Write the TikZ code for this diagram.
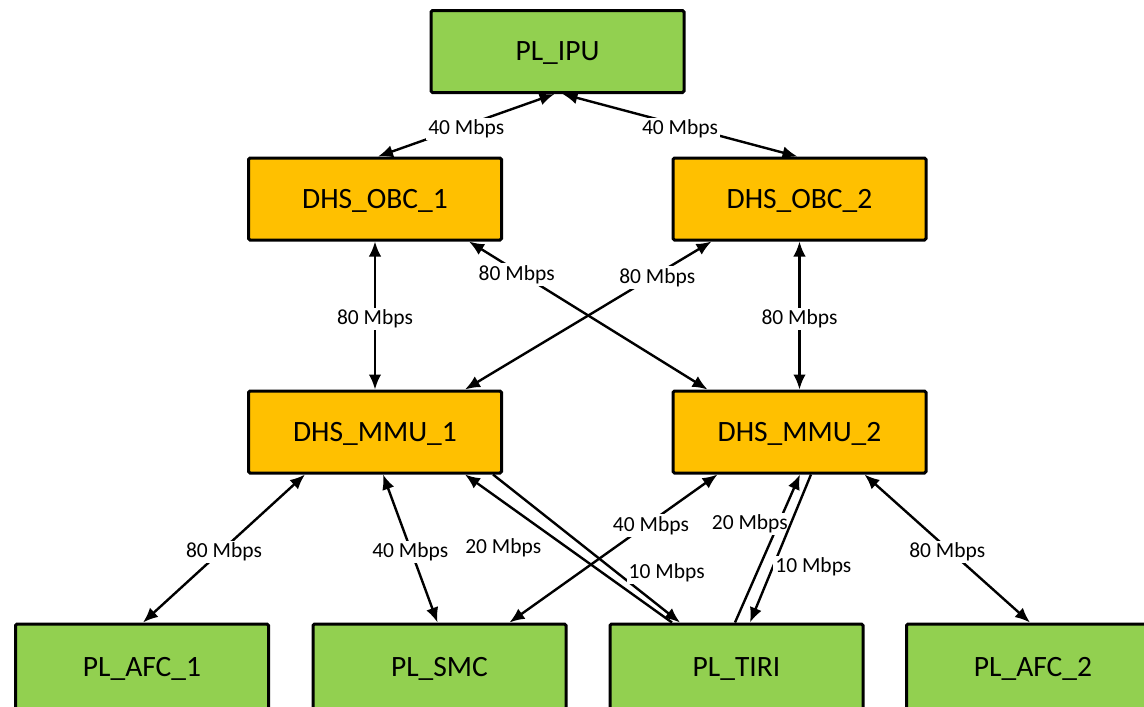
\documentclass[tikz,border=0pt]{standalone}
\usepackage{fontspec}
\setmainfont{Carlito}
\usepackage{tikz}
\usetikzlibrary{arrows.meta, calc}
\definecolor{plgreen}{HTML}{92D050}
\definecolor{dhsorange}{HTML}{FFC000}
\tikzset{>={Latex[length=15pt,width=12.5pt]}}

\begin{document}
\begin{tikzpicture}[x=1pt, y=-1pt,
  box/.style={draw=black, line width=3pt, rounded corners=1.5pt, minimum width=253pt, minimum height=82pt, inner sep=0pt, text height=18.8pt, text depth=0pt, font=\fontsize{29.5}{32}\selectfont},
  pl/.style={box, fill=plgreen},
  dhs/.style={box, fill=dhsorange},
  link/.style={line width=2.4pt},
  lbl/.style={fill=white, inner sep=2pt, yshift=-3.5pt, font=\fontsize{21.5}{24}\selectfont}]
\clip (0,0) rectangle (1144,707);
% boxes
\node[pl] (ipu) at (557.5,51.5) {PL\_IPU};
\node[dhs] (obc1) at (375,199) {DHS\_OBC\_1};
\node[dhs] (obc2) at (799.5,199) {DHS\_OBC\_2};
\node[dhs] (mmu1) at (375,432) {DHS\_MMU\_1};
\node[dhs] (mmu2) at (799.5,432) {DHS\_MMU\_2};
\node[pl, minimum height=86pt] (afc1) at (142,667) {PL\_AFC\_1};
\node[pl, minimum height=86pt] (smc) at (439.5,667) {PL\_SMC};
\node[pl, minimum height=86pt] (tiri) at (736.5,667) {PL\_TIRI};
\node[pl, minimum height=86pt] (afc2) at (1033,667) {PL\_AFC\_2};
% links
\draw[link, <->] ([xshift=-3pt]ipu.south) -- node[lbl] {40 Mbps} ([xshift=3pt]obc1.north);
\draw[link, <->] ([xshift=5pt]ipu.south) -- node[lbl] {40 Mbps} ([xshift=-2pt]obc2.north);
\draw[link, <->] (obc1.south) -- node[lbl] {80 Mbps} (mmu1.north);
\draw[link, <->] (obc2.south) -- node[lbl] {80 Mbps} (mmu2.north);
\draw[link, <->] ([xshift=94pt]obc1.south) -- node[lbl, pos=0.2] {80 Mbps} ([xshift=-92pt]mmu2.north);
\draw[link, <->] ([xshift=-88pt]obc2.south) -- node[lbl, pos=0.22] {80 Mbps} ([xshift=90pt]mmu1.north);
\draw[link, <->] ([xshift=-70pt]mmu1.south) -- node[lbl] {80 Mbps} ([xshift=1pt]afc1.north);
\draw[link, <->] ([xshift=8pt]mmu1.south) -- node[lbl] {40 Mbps} ([xshift=-2pt]smc.north);
\draw[link, <->] ([xshift=-82pt]mmu2.south) -- node[lbl, pos=0.32] {40 Mbps} ([xshift=70pt]smc.north);
\draw[link, <->] ([xshift=65pt]mmu2.south) -- node[lbl] {80 Mbps} ([xshift=-3pt]afc2.north);
\draw[link, ->] ([xshift=-64.5pt]tiri.north) -- node[lbl, pos=0.53, xshift=-59pt] {20 Mbps} ([xshift=90pt]mmu1.south);
\draw[link, ->] ([xshift=118pt]mmu1.south) -- node[lbl, pos=0.64, xshift=54pt] {10 Mbps} ([xshift=-56.5pt]tiri.north);
\draw[link, ->] ([xshift=-1.5pt]tiri.north) -- node[lbl, pos=0.69, xshift=-30pt] {20 Mbps} ([xshift=0.5pt]mmu2.south);
\draw[link, ->] ([xshift=11.5pt]mmu2.south) -- node[lbl, pos=0.6, xshift=39pt] {10 Mbps} ([xshift=13.5pt]tiri.north);
\end{tikzpicture}
\end{document}
